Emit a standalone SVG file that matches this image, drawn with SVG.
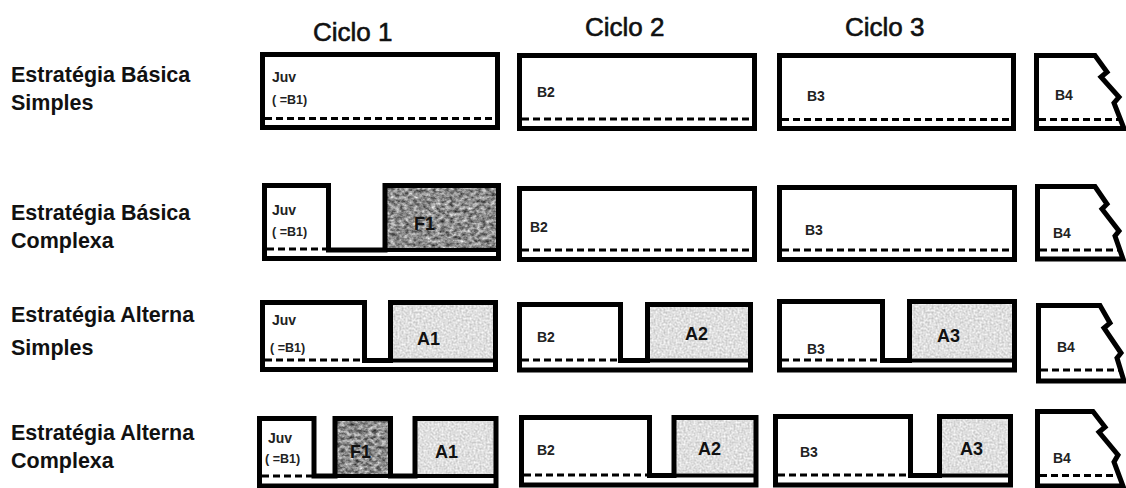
<svg xmlns="http://www.w3.org/2000/svg" width="1126" height="488" viewBox="0 0 1126 488">
<style>
.o{fill:none;stroke:#000;stroke-width:5;stroke-linejoin:miter}
.m{fill:none;stroke:#000;stroke-width:4}
.d{fill:none;stroke:#000;stroke-width:3;stroke-dasharray:7 4}
.lab{font-family:"Liberation Sans",Arial,sans-serif;font-weight:bold;font-size:21.5px;fill:#111}
.tit{font-family:"Liberation Sans",Arial,sans-serif;font-size:26px;fill:#111;stroke:#111;stroke-width:0.6}
.s{font-family:"Liberation Sans",Arial,sans-serif;font-weight:bold;font-size:14px;fill:#222}
.p{font-family:"Liberation Sans",Arial,sans-serif;font-weight:bold;font-size:12.5px;fill:#222}
.big{font-family:"Liberation Sans",Arial,sans-serif;font-weight:bold;font-size:18px;fill:#111}
</style>
<defs>
<filter id="texDark" x="0" y="0" width="1" height="1" color-interpolation-filters="sRGB">
<feTurbulence type="fractalNoise" baseFrequency="0.22 0.3" numOctaves="3" seed="7" result="n"/>
<feColorMatrix in="n" type="matrix" values="1.0 0 0 0 0.05  1.0 0 0 0 0.05  1.0 0 0 0 0.05  0 0 0 0 1" result="c"/>
<feComposite in="c" in2="SourceGraphic" operator="in"/>
</filter>
<filter id="texLight" x="0" y="0" width="1" height="1" color-interpolation-filters="sRGB">
<feTurbulence type="fractalNoise" baseFrequency="0.5" numOctaves="2" seed="3" result="n"/>
<feColorMatrix in="n" type="matrix" values="0.35 0 0 0 0.7  0.35 0 0 0 0.7  0.35 0 0 0 0.7  0 0 0 0 1" result="c"/>
<feComposite in="c" in2="SourceGraphic" operator="in"/>
</filter>
</defs>
<rect x="0" y="0" width="1126" height="488" fill="#fff"/>

<g id="titles">
<text class="tit" x="313" y="41">Ciclo 1</text>
<text class="tit" x="585" y="36">Ciclo 2</text>
<text class="tit" x="845" y="36">Ciclo 3</text>
</g>

<g id="labels">
<text class="lab" x="11" y="82">Estratégia Básica</text>
<text class="lab" x="11" y="110">Simples</text>
<text class="lab" x="11" y="220">Estratégia Básica</text>
<text class="lab" x="11" y="248">Complexa</text>
<text class="lab" x="11" y="322">Estratégia Alterna</text>
<text class="lab" x="11" y="355">Simples</text>
<text class="lab" x="11" y="440">Estratégia Alterna</text>
<text class="lab" x="11" y="468">Complexa</text>
</g>

<!-- Row 1 -->
<g id="r1c1">
<rect class="o" x="262.5" y="54.5" width="235" height="73"/>
<line class="d" x1="265" y1="118.5" x2="495" y2="118.5"/>
<text class="s" x="272" y="82">Juv</text>
<text class="p" x="272" y="104">( =B1)</text>
</g>
<g id="r1c2">
<rect class="o" x="519.5" y="55.5" width="235" height="73"/>
<line class="d" x1="522" y1="119" x2="752" y2="119"/>
<text class="s" x="537" y="97">B2</text>
</g>
<g id="r1c3">
<rect class="o" x="779.5" y="55.5" width="234" height="73"/>
<line class="d" x1="782" y1="119.5" x2="1011" y2="119.5"/>
<text class="s" x="807" y="101">B3</text>
</g>
<g id="r1c4">
<path class="o" d="M1036.5,128.5 V55.5 H1095 L1107,72 L1101,77 L1119,97 L1114,103 L1124,128.5 Z"/>
<line class="d" x1="1039" y1="119.5" x2="1120" y2="119.5"/>
<text class="s" x="1055" y="100">B4</text>
</g>

<!-- Row 2 -->
<g id="r2c1">
<rect x="387" y="188" width="109" height="60" fill="#888" filter="url(#texDark)"/>
<path class="o" d="M264.5,258.5 V185.5 H328.5 V250 H385 V185.5 H498.5 V258.5 Z"/>
<line class="m" x1="328.5" y1="250" x2="498.5" y2="250"/>
<line class="d" x1="267" y1="249" x2="326" y2="249"/>
<text class="s" x="272" y="215">Juv</text>
<text class="p" x="272" y="236">( =B1)</text>
<text class="big" x="414" y="230">F1</text>
</g>
<g id="r2c2">
<rect class="o" x="519.5" y="188.5" width="235" height="71"/>
<line class="d" x1="522" y1="250" x2="752" y2="250"/>
<text class="s" x="530" y="232">B2</text>
</g>
<g id="r2c3">
<rect class="o" x="779.5" y="187.5" width="235" height="72"/>
<line class="d" x1="782" y1="250" x2="1012" y2="250"/>
<text class="s" x="805" y="235">B3</text>
</g>
<g id="r2c4">
<path class="o" d="M1037.5,259 V186.5 H1095 L1107,204 L1102,209 L1119,231 L1115,236 L1123,259 Z"/>
<line class="d" x1="1040" y1="250" x2="1120" y2="250"/>
<text class="s" x="1053" y="238">B4</text>
</g>

<!-- Row 3 -->
<g id="r3c1">
<rect x="393" y="305" width="100" height="53" fill="#ddd" filter="url(#texLight)"/>
<path class="o" d="M262.5,369.5 V302.5 H364.5 V360.5 H390.5 V302.5 H495.5 V369.5 Z"/>
<line class="m" x1="364.5" y1="360.5" x2="495.5" y2="360.5"/>
<line class="d" x1="265" y1="360" x2="362" y2="360"/>
<text class="s" x="272" y="325">Juv</text>
<text class="p" x="270" y="352">( =B1)</text>
<text class="big" x="417" y="345">A1</text>
</g>
<g id="r3c2">
<rect x="650" y="307" width="98" height="51" fill="#ddd" filter="url(#texLight)"/>
<path class="o" d="M519.5,370 V304.5 H620.5 V360.5 H647.5 V304.5 H750.5 V370 Z"/>
<line class="m" x1="620.5" y1="360.5" x2="750.5" y2="360.5"/>
<line class="d" x1="522" y1="360" x2="618" y2="360"/>
<text class="s" x="537" y="342">B2</text>
<text class="big" x="685" y="340">A2</text>
</g>
<g id="r3c3">
<rect x="912" y="304" width="100" height="54" fill="#ddd" filter="url(#texLight)"/>
<path class="o" d="M779.5,370 V301.5 H882.5 V360.5 H909.5 V301.5 H1014.5 V370 Z"/>
<line class="m" x1="882.5" y1="360.5" x2="1014.5" y2="360.5"/>
<line class="d" x1="782" y1="360" x2="880" y2="360"/>
<text class="s" x="807" y="354">B3</text>
<text class="big" x="937" y="342">A3</text>
</g>
<g id="r3c4">
<path class="o" d="M1038.5,381 V305.5 H1100 L1110,323 L1104,328 L1121,353 L1117,358 L1124,381 Z"/>
<line class="d" x1="1041" y1="370" x2="1121" y2="370"/>
<text class="s" x="1057" y="352">B4</text>
</g>

<!-- Row 4 -->
<g id="r4c1">
<rect x="337" y="421" width="51" height="53" fill="#888" filter="url(#texDark)"/>
<rect x="417" y="421" width="77" height="53" fill="#ddd" filter="url(#texLight)"/>
<path class="o" d="M259.5,486 V418.5 H314 V476 H335 V418.5 H390.5 V476 H415 V418.5 H496 V486 Z"/>
<line class="m" x1="314" y1="476" x2="496" y2="476"/>
<line class="d" x1="262" y1="476" x2="312" y2="476"/>
<text class="s" x="268" y="443">Juv</text>
<text class="p" x="265" y="463">( =B1)</text>
<text class="big" x="350" y="458">F1</text>
<text class="big" x="435" y="458">A1</text>
</g>
<g id="r4c2">
<rect x="676" y="420" width="78" height="53" fill="#ddd" filter="url(#texLight)"/>
<path class="o" d="M521.5,485 V417.5 H649.5 V475.5 H674 V417.5 H756 V485 Z"/>
<line class="m" x1="649.5" y1="475.5" x2="756" y2="475.5"/>
<line class="d" x1="524" y1="475" x2="647" y2="475"/>
<text class="s" x="537" y="455">B2</text>
<text class="big" x="698" y="455">A2</text>
</g>
<g id="r4c3">
<rect x="942" y="419" width="66" height="54" fill="#ddd" filter="url(#texLight)"/>
<path class="o" d="M775.5,485 V416.5 H910.5 V475.5 H939.5 V416.5 H1010.5 V485 Z"/>
<line class="m" x1="910.5" y1="475.5" x2="1010.5" y2="475.5"/>
<line class="d" x1="778" y1="475" x2="908" y2="475"/>
<text class="s" x="800" y="457">B3</text>
<text class="big" x="960" y="455">A3</text>
</g>
<g id="r4c4">
<path class="o" d="M1037.5,486 V411.5 H1093 L1105,427 L1099,432 L1118,455 L1114,462 L1123,486 Z"/>
<line class="d" x1="1040" y1="475.5" x2="1120" y2="475.5"/>
<text class="s" x="1053" y="463">B4</text>
</g>

<g id="connectors"></g>
</svg>
